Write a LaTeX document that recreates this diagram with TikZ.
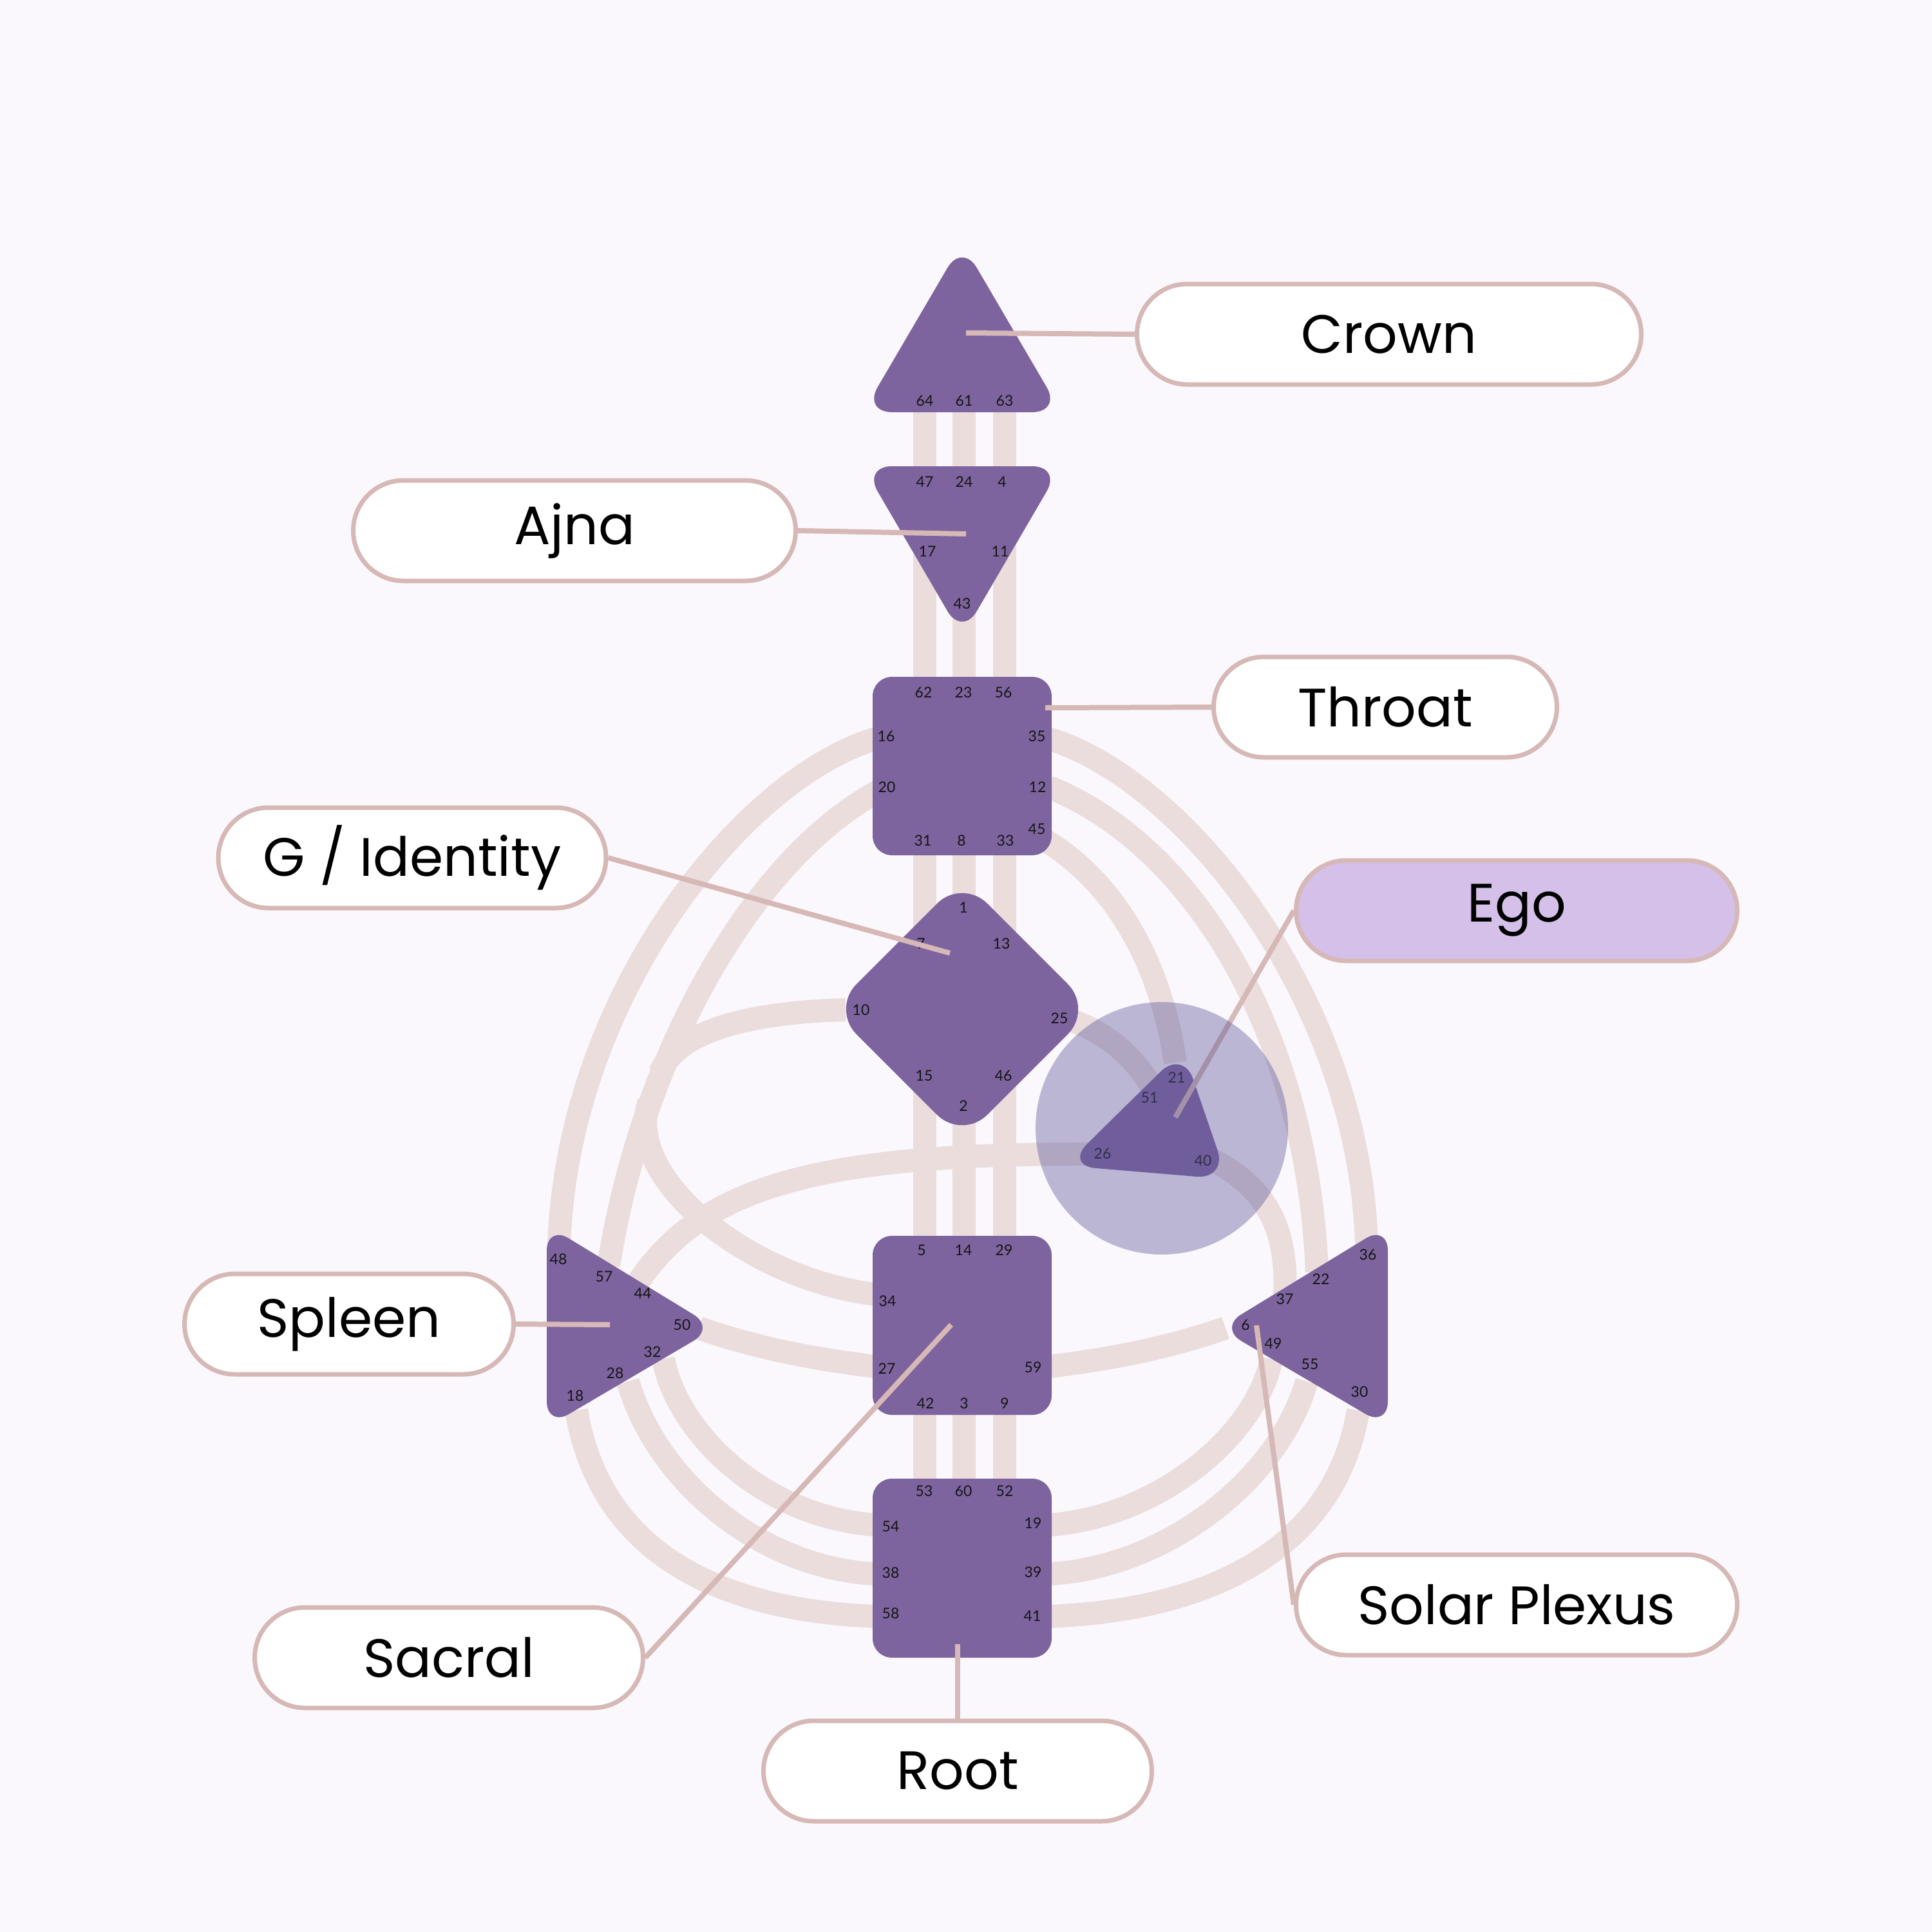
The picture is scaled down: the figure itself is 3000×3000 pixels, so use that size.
\documentclass[tikz,border=0pt]{standalone}
\usepackage{fontspec}
\setmainfont{Poppins}
\newfontfamily\numfont{Lato}
\definecolor{bgcol}{HTML}{FAF8FC}
\definecolor{chancol}{HTML}{EADDDC}
\definecolor{cencol}{HTML}{7E649E}
\definecolor{edgecol}{HTML}{D6B8B6}
\definecolor{egofill}{HTML}{D4C0E8}
\definecolor{halocol}{RGB}{92,85,154}
\definecolor{numcol}{HTML}{151515}
\pgfdeclarelayer{base}
\pgfdeclarelayer{links}
\pgfsetlayers{base,links,main}
\begin{document}
\begin{tikzpicture}[x=1pt,y=-1pt,
  chanl/.style={draw=chancol,line width=36pt},
  cen/.style={fill=cencol},
  num/.style={font=\numfont\fontsize{23}{23}\selectfont, text=numcol, inner sep=0pt},
  lbl/.style={draw=edgecol, line width=7pt, fill=white, rounded corners=78pt, minimum height=156pt, inner sep=0pt, font=\fontsize{84}{84}\selectfont},
  conn/.style={draw=edgecol, line width=8pt}]
\useasboundingbox (0,0) rectangle (3000,3000);

\begin{pgfonlayer}{base}
\fill[bgcol] (0,0) rectangle (3000,3000);
% ---------- channels ----------
\foreach \cx in {1436,1497,1560}{
  \draw[chanl] (\cx,600) -- (\cx,1060);
  \draw[chanl] (\cx,1320) -- (\cx,1930);
  \draw[chanl] (\cx,2190) -- (\cx,2305);
}
% left upper
\draw[chanl] (1360,1147) .. controls (1150,1210) and (880,1550) .. (868,1935);
\draw[chanl] (1376,1222) .. controls (1180,1320) and (1000,1620) .. (945,1965);
\draw[chanl] (1313,1568) .. controls (1163,1572) and (1051,1601) .. (1025,1666);
\draw[chanl] (1360,2010) .. controls (1155,1985) and (967,1824) .. (1008,1711);
\draw[chanl] (985,2000) .. controls (1080,1850) and (1250,1790) .. (1700,1792);
% right upper
\draw[chanl] (1628,1147) .. controls (1838,1210) and (2112,1550) .. (2122,1935);
\draw[chanl] (1628,1222) .. controls (1850,1310) and (2030,1600) .. (2045,1975);
\draw[chanl] (1615,1300) .. controls (1720,1360) and (1800,1480) .. (1825,1650);
\draw[chanl] (1665,1585) .. controls (1720,1605) and (1760,1640) .. (1790,1690);
\draw[chanl] (1880,1800) .. controls (1960,1840) and (2000,1900) .. (1995,2010);
% middle
\draw[chanl] (1085,2062) .. controls (1170,2092) and (1260,2110) .. (1360,2122);
\draw[chanl] (1628,2122) .. controls (1728,2110) and (1818,2092) .. (1903,2062);
% bottom left
\draw[chanl] (1030,2110) .. controls (1050,2220) and (1180,2355) .. (1360,2368);
\draw[chanl] (975,2145) .. controls (1020,2300) and (1180,2435) .. (1360,2444);
\draw[chanl] (895,2190) .. controls (930,2400) and (1100,2500) .. (1360,2510);
% bottom right
\draw[chanl] (1974,2110) .. controls (1954,2220) and (1808,2355) .. (1628,2368);
\draw[chanl] (2029,2145) .. controls (1984,2300) and (1808,2435) .. (1628,2444);
\draw[chanl] (2109,2190) .. controls (2074,2400) and (1888,2500) .. (1628,2510);

% ---------- centres ----------
\fill[cen, rounded corners=45pt] (1494,640) -- (1648,640) -- (1494,377) -- (1340,640) -- cycle;
\fill[cen, rounded corners=45pt] (1494,724) -- (1648,724) -- (1494,988) -- (1340,724) -- cycle;
\fill[cen, rounded corners=30pt] (1355,1051) rectangle (1633,1328);
\fill[cen, rounded corners=55pt] (1595.5,1465.5) -- (1697,1567) -- (1494,1770) -- (1291,1567) -- (1494,1364) -- cycle;
\fill[cen, rounded corners=48pt] (1745,1720) -- (1654,1810) -- (1906,1831) -- (1837,1630) -- cycle;
\fill[cen, rounded corners=40pt] (849,2059) -- (849,1902) -- (1111,2062) -- (849,2216) -- cycle;
\fill[cen, rounded corners=40pt] (2155,2059) -- (2155,1902) -- (1893,2062) -- (2155,2216) -- cycle;
\fill[cen, rounded corners=30pt] (1355,1919) rectangle (1633,2197);
\fill[cen, rounded corners=30pt] (1355,2296) rectangle (1633,2574);

% ---------- gate numbers ----------
\foreach \t/\x/\y in {64/1436/622,61/1497/622,63/1560/622,
  47/1436/748,24/1497/748,4/1556/748,17/1440/856,11/1553/856,43/1494/937,
  62/1434/1075,23/1496/1075,56/1558/1075,16/1376/1143,35/1610/1143,20/1377/1222,12/1611/1222,45/1610/1287,31/1433/1305,8/1493/1305,33/1561/1305,
  1/1496/1409,7/1430/1465,13/1555/1465,10/1337/1568,25/1645/1581,15/1435/1670,46/1558/1670,2/1496/1717,
  21/1827/1673,51/1785/1704,26/1712/1791,40/1868/1802,
  48/867/1955,57/938/1982,44/998/2008,50/1059/2057,32/1013/2099,28/955/2132,18/893/2167,
  36/2124/1948,22/2051/1986,37/1995/2017,6/1934/2057,49/1977/2086,55/2034/2118,30/2111/2161,
  5/1431/1941,14/1496/1941,29/1559/1941,34/1378/2020,27/1377/2125,59/1604/2123,42/1437/2179,3/1497/2179,9/1560/2179,
  53/1435/2315,60/1496/2315,52/1560/2315,54/1383/2370,19/1604/2365,38/1383/2442,39/1604/2441,58/1383/2505,41/1603/2509}{
  \node[num] (n\t) at (\x,\y) {\t};
}
\end{pgfonlayer}

% ---------- connector origins ----------
\coordinate (pcrown) at (1500,517);
\coordinate (pajna) at (1500,829);
\coordinate (pthroat) at (1623,1099);
\coordinate (pg) at (1475,1480);
\coordinate (pego) at (1825,1735);
\coordinate (pspleen) at (947,2057);
\coordinate (psp) at (1951,2058);
\coordinate (psacral) at (1477,2057);
\coordinate (proot) at (1487,2553);

% ---------- labels ----------
\node[lbl, minimum width=783pt] (crown) at (2157,519) {Crown};
\node[lbl, minimum width=687pt] (ajna) at (892,824) {Ajna};
\node[lbl, minimum width=533pt] (throat) at (2151,1098) {Throat};
\node[lbl, minimum width=602pt] (gid) at (640,1332) {G / Identity};
\node[lbl, minimum width=685pt, fill=egofill] (ego) at (2355,1414) {Ego};
\node[lbl, minimum width=511pt] (spleen) at (542,2056) {Spleen};
\node[lbl, minimum width=685pt] (sp) at (2355,2492) {Solar Plexus};
\node[lbl, minimum width=603pt] (sacral) at (697,2574) {Sacral};
\node[lbl, minimum width=603pt] (root) at (1487,2750) {Root};

% ---------- connectors and ego halo ----------
\begin{pgfonlayer}{links}
\draw[conn] (pcrown) -- (crown.west);
\draw[conn] (pajna) -- (ajna.east);
\draw[conn] (pthroat) -- (throat.west);
\draw[conn] (pg) -- (gid.east);
\draw[conn] (pego) -- (ego.west);
\draw[conn] (pspleen) -- (spleen.east);
\draw[conn] (psp) -- (sp.west);
\draw[conn] (psacral) -- (sacral.east);
\draw[conn] (proot) -- (root.north);
\fill[halocol, fill opacity=0.4] (1804,1752) circle[radius=196];
\end{pgfonlayer}
\end{tikzpicture}
\end{document}
